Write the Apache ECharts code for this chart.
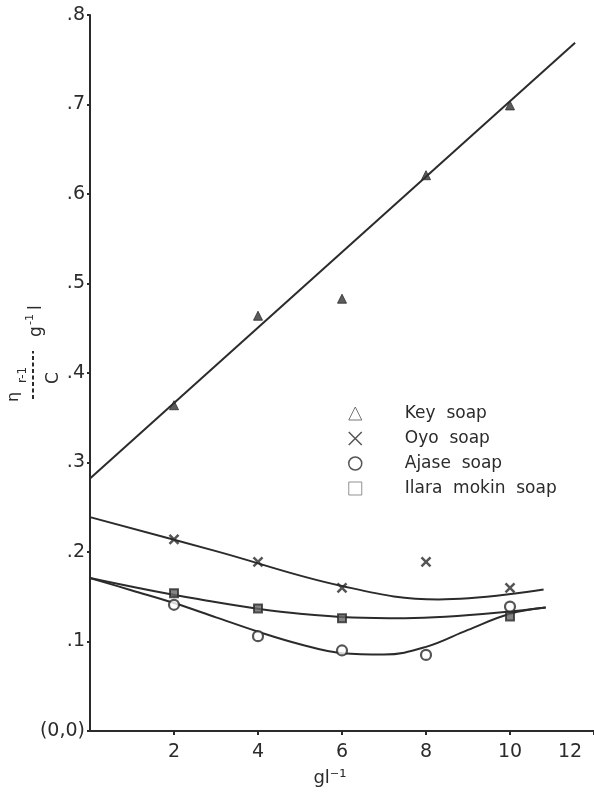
<!DOCTYPE html>
<html>
<head>
<meta charset="utf-8">
<script src="https://cdn.jsdelivr.net/npm/echarts@6/dist/echarts.min.js"></script>
<style>html,body{margin:0;padding:0;background:#fff;}#c{width:594px;height:792px;}</style>
</head>
<body>
<div id="c"></div>
<script>
// ---- data ----
const xTicks = [0, 2, 4, 6, 8, 10, 12];
const yTicks = [0, 0.1, 0.2, 0.3, 0.4, 0.5, 0.6, 0.7, 0.8];
const seriesNames = ['Key  soap', 'Oyo  soap', 'Ajase  soap', 'Ilara  mokin  soap'];

// measured points
const keyPts   = [[2, 0.364], [4, 0.464], [6, 0.483], [8, 0.621], [10, 0.699]];
const oyoPts   = [[2, 0.214], [4, 0.189], [6, 0.160], [8, 0.189], [10, 0.160]];
const ajasePts = [[2, 0.141], [4, 0.106], [6, 0.090], [8, 0.085], [10, 0.139]];
const ilaraPts = [[2, 0.154], [4, 0.137], [6, 0.126], [10, 0.128]];

// fitted curves as drawn
const keyFit   = [[0, 0.282], [11.55, 0.769]];
const oyoFit   = [[0, 0.239], [3, 0.201], [6, 0.162], [8.3, 0.147], [10.8, 0.158]];
const ajaseFit = [[0, 0.171], [1, 0.157], [2, 0.143], [3, 0.127], [4, 0.111], [5, 0.097], [6, 0.087],
                  [7, 0.0855], [8, 0.094], [9, 0.113], [10, 0.131], [10.85, 0.138]];
const ilaraFit = [[0, 0.171], [2.5, 0.148], [5, 0.131], [7.5, 0.126], [10.85, 0.138]];

const INK = '#2b2b2b';
const FONT = 'DejaVu Sans';
const crossPath = 'path://M0,0L10,10M10,0L0,10';

const chart = echarts.init(document.getElementById('c'), null, {renderer: 'canvas'});

function fitSeries(name, data, smooth) {
  return {
    name: name, type: 'line', data: data, smooth: smooth,
    showSymbol: false, symbol: 'none', silent: true, z: 2,
    lineStyle: {color: INK, width: 2}
  };
}

const option = {
  backgroundColor: '#ffffff',
  animation: false,
  textStyle: {fontFamily: FONT, color: INK},
  grid: {left: 90, right: 0, top: 15, bottom: 59, containLabel: false},
  xAxis: {
    type: 'value', min: xTicks[0], max: xTicks[xTicks.length - 1], interval: 2,
    axisLine: {show: true, onZero: false, lineStyle: {color: INK, width: 2}},
    axisTick: {show: true, inside: false, length: 4, lineStyle: {color: INK, width: 2}},
    splitLine: {show: false},
    axisLabel: {
      color: INK, fontFamily: FONT, fontSize: 19, margin: 12, showMinLabel: false,
      formatter: function (v) { return v === 12 ? '{r|12}' : String(v); },
      rich: {r: {fontFamily: FONT, fontSize: 19, color: INK, padding: [0, 48, 0, 0]}}
    },
    name: 'gl\u207B\u00B9', nameLocation: 'middle', nameGap: 38,
    nameTextStyle: {color: INK, fontFamily: FONT, fontSize: 18, padding: [0, 24, 0, 0]}
  },
  yAxis: {
    type: 'value', min: yTicks[0], max: yTicks[yTicks.length - 1], interval: 0.1,
    axisLine: {show: true, onZero: false, lineStyle: {color: INK, width: 2}},
    axisTick: {show: true, inside: false, length: 3, lineStyle: {color: INK, width: 2}},
    splitLine: {show: false},
    axisLabel: {
      color: INK, fontFamily: FONT, fontSize: 19, margin: 5,
      formatter: function (v) { return v === 0 ? '(0,0)' : '.' + Math.round(v * 10); }
    }
  },
  legend: {
    orient: 'vertical', left: 343, top: 400,
    itemWidth: 13, itemHeight: 13, itemGap: 8,
    selectedMode: false,
    textStyle: {color: INK, fontFamily: FONT, fontSize: 17, lineHeight: 14, padding: [0, 0, 0, 38]},
    data: [
      {name: seriesNames[0], icon: 'triangle', itemStyle: {color: 'rgba(0,0,0,0)', borderColor: '#555', borderWidth: 1}},
      {name: seriesNames[1], icon: crossPath, itemStyle: {color: 'rgba(0,0,0,0)', borderColor: INK, borderWidth: 1.5}},
      {name: seriesNames[2], icon: 'circle', itemStyle: {color: 'rgba(0,0,0,0)', borderColor: INK, borderWidth: 1.5}},
      {name: seriesNames[3], icon: 'rect', itemStyle: {color: 'rgba(0,0,0,0)', borderColor: '#777', borderWidth: 1}}
    ]
  },
  series: [
    fitSeries('keyFit', keyFit, false),
    fitSeries('oyoFit', oyoFit, 0.4),
    fitSeries('ajaseFit', ajaseFit, 0.4),
    fitSeries('ilaraFit', ilaraFit, 0.4),
    {
      name: seriesNames[0], type: 'scatter', data: keyPts, symbol: 'triangle', symbolSize: 9, z: 5,
      itemStyle: {color: '#333', borderColor: INK, borderWidth: 1}
    },
    {
      name: seriesNames[1], type: 'scatter', data: oyoPts, symbol: crossPath, symbolSize: 9, z: 5,
      itemStyle: {color: 'rgba(0,0,0,0)', borderColor: INK, borderWidth: 2.5}
    },
    {
      name: seriesNames[2], type: 'scatter', data: ajasePts, symbol: 'circle', symbolSize: 10, z: 5,
      itemStyle: {color: '#ffffff', borderColor: INK, borderWidth: 2.2}
    },
    {
      name: seriesNames[3], type: 'scatter', data: ilaraPts, symbol: 'rect', symbolSize: 8, z: 5,
      itemStyle: {color: '#666', borderColor: INK, borderWidth: 2}
    }
  ],
  graphic: [{
    type: 'group', x: 33, y: 377, rotation: Math.PI / 2, silent: true,
    children: [
      {type: 'line', shape: {x1: -22, y1: 0, x2: 26, y2: 0}, style: {stroke: INK, lineWidth: 2, lineDash: [4, 2.5]}},
      {type: 'text', x: -25, y: -19, style: {text: '\u03B7', font: '16px "DejaVu Sans"', fill: INK, align: 'left', verticalAlign: 'middle'}},
      {type: 'text', x: -6, y: -10, style: {text: 'r-1', font: '12px "DejaVu Sans"', fill: INK, align: 'left', verticalAlign: 'middle'}},
      {type: 'text', x: -1, y: 21, style: {text: 'C', font: '17px "DejaVu Sans"', fill: INK, align: 'center', verticalAlign: 'middle'}},
      {type: 'text', x: 40, y: 4, style: {text: 'g', font: '17px "DejaVu Sans"', fill: INK, align: 'left', verticalAlign: 'middle'}},
      {type: 'text', x: 52, y: -3, style: {text: '-1', font: '11px "DejaVu Sans"', fill: INK, align: 'left', verticalAlign: 'middle'}},
      {type: 'text', x: 67, y: 4, style: {text: 'l', font: '17px "DejaVu Sans"', fill: INK, align: 'left', verticalAlign: 'middle'}}
    ]
  }]
};
chart.setOption(option);
</script>
</body>
</html>
